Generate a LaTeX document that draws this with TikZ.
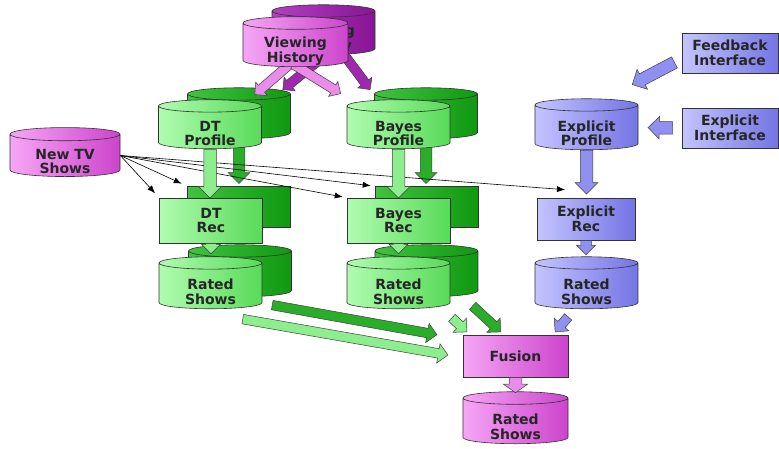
\documentclass[tikz,border=0pt]{standalone}
\usepackage{fontspec}
\setmainfont{DejaVu Sans}
\usepackage{tikz}
\usetikzlibrary{positioning,arrows.meta,calc,shapes.geometric,shapes.arrows}

\definecolor{pinkA}{HTML}{F6A6F6}
\definecolor{pinkB}{HTML}{CC44CC}
\definecolor{pinkF}{HTML}{EA8CEA}
\definecolor{purA}{HTML}{B240C0}
\definecolor{purB}{HTML}{861494}
\definecolor{purF}{HTML}{9E28AE}
\definecolor{grnA}{HTML}{B0FCB0}
\definecolor{grnB}{HTML}{58DA58}
\definecolor{grnF}{HTML}{8CEE8C}
\definecolor{dgrA}{HTML}{40C440}
\definecolor{dgrB}{HTML}{109810}
\definecolor{dgrF}{HTML}{2AAE2A}
\definecolor{bluA}{HTML}{C4C4FF}
\definecolor{bluB}{HTML}{7474E4}
\definecolor{bluF}{HTML}{9090F0}

% dicker Pfeil zwischen zwei Punkten
\newcommand{\fatarrow}[3][]{%
  \path let \p1=(#2), \p2=(#3),
    \n1={atan2(\y2-\y1,\x2-\x1)}, \n2={veclen(\x2-\x1,\y2-\y1)} in
    node[fat,#1,anchor=tail,rotate=\n1,minimum height=\n2] at (\p1) {};
}

\begin{document}
\begin{tikzpicture}[
  x=1pt,y=-1pt,
  >={Latex[length=8pt,width=6pt]},
  every node/.style={font=\fontsize{14}{14.5}\selectfont\bfseries,text=black!85},
  db/.style={cylinder,shape border rotate=90,aspect=0.12,draw=black!80,
    line width=0.6pt,text width=103pt,minimum width=103,minimum height=51,inner sep=0pt},
  dbtext/.style={label={[yshift=-6pt,align=center]center:#1}},
  box/.style={rectangle,draw=black!80,line width=0.6pt,minimum width=103,
    minimum height=44,inner sep=0pt,align=center},
  pink/.style={left color=pinkA,right color=pinkB},
  purple/.style={left color=purA,right color=purB},
  green/.style={left color=grnA,right color=grnB},
  dgreen/.style={left color=dgrA,right color=dgrB},
  blue/.style={left color=bluA,right color=bluB},
  fat/.style={single arrow,draw=black!75,line width=0.5pt,inner xsep=0pt,
    inner ysep=6pt,single arrow head extend=5pt,minimum width=0pt},
  feed/.style={->,line width=0.6pt,black}
]
\useasboundingbox (0,0) rectangle (779,448);

% hintere Ebene (dunkelgruen)
\node[db,dgreen] (dtpB) at (239,116.5) {};
\node[db,dgreen] (bpB)  at (426,116.5) {};
\node[box,dgreen,minimum height=41] (dtrB) at (239,207) {};
\node[box,dgreen,minimum height=41] (brB)  at (426.5,207) {};
\node[db,dgreen,minimum height=52] (dtsB) at (240,274) {};
\node[db,dgreen,minimum height=52] (bsB)  at (426.5,274) {};

\fatarrow[fill=dgrF,inner ysep=5.5pt]{dtpB.south}{$(dtpB.south |- dtrB.north)+(0,-3)$}
\fatarrow[fill=dgrF,inner ysep=5.5pt]{bpB.south}{$(bpB.south |- brB.north)+(0,-3)$}
\fatarrow[fill=dgrF,inner ysep=4pt]{dtrB.south}{$(dtrB.south |- dtsB.north)+(0,-2)$}
\fatarrow[fill=dgrF,inner ysep=4pt]{brB.south}{$(brB.south |- bsB.north)+(0,-2)$}

% vordere Ebene (hellgruen)
\node[db,green,minimum height=49,dbtext={DT\\Profile}] (dtp) at (210,127.5) {};
\node[db,green,minimum height=49,dbtext={Bayes\\Profile}] (bp) at (398.5,127.5) {};
\node[box,green,minimum height=45] (dtr) at (211,220.5) {DT\\Rec};
\node[box,green,minimum height=45] (br)  at (398.5,220.5) {Bayes\\Rec};
\node[db,green,minimum height=52,dbtext={Rated\\Shows}] (dts) at (210.5,286) {};
\node[db,green,minimum height=52,dbtext={Rated\\Shows}] (bs)  at (398.5,286) {};

% explizites Profil
\node[db,blue,dbtext={Explicit\\Profile}] (ep) at (586.5,127.5) {};
\node[box,blue,minimum width=98,minimum height=42] (er) at (586,219) {Explicit\\Rec};
\node[db,blue,minimum height=52,dbtext={Rated\\Shows}] (es) at (586.5,286) {};
\node[box,blue,minimum width=96,minimum height=40] (fbi)  at (730,53) {Feedback\\Interface};
\node[box,blue,minimum width=96,minimum height=40] (eint) at (730,128) {Explicit\\Interface};

% neue Sendungen
\node[db,pink,text width=110pt,minimum width=110,minimum height=49,dbtext={New TV\\Shows}] (newtv) at (65,155.5) {};
\draw[feed,shorten >=6pt] (newtv.east) -- (dtr.north west);
\draw[feed,shorten >=6pt] (newtv.east) -- (dtrB.north west);
\draw[feed,shorten >=4pt] (newtv.east) -- (br.north west);
\draw[feed,shorten >=4pt] (newtv.east) -- (brB.north west);
\draw[feed] (newtv.east) -- ($(er.north)+(-21,-8)$);

% hellgruene Pfeile
\fatarrow[fill=grnF]{dtp.south}{dtp.south |- dtr.north}
\fatarrow[fill=grnF]{bp.south}{bp.south |- br.north}
\fatarrow[fill=grnF,inner ysep=5pt,single arrow head extend=4pt]{dtr.south}{$(dtr.south |- dts.north)+(0,-3)$}
\fatarrow[fill=grnF,inner ysep=5pt,single arrow head extend=4pt]{br.south}{$(br.south |- bs.north)+(0,-3)$}

% blaue Pfeile
\fatarrow[fill=bluF]{$(fbi.south west)+(-7,-11)$}{$(ep.north)+(46,-14)$}
\fatarrow[fill=bluF]{$(eint.west)+(-9,0)$}{$(ep.east)+(10,0)$}
\fatarrow[fill=bluF]{ep.south}{$(ep.south |- er.north)+(0,-4)$}
\fatarrow[fill=bluF,inner ysep=5pt,single arrow head extend=4pt]{er.south}{$(er.south |- es.north)+(0,-2)$}

% Fusion
\node[box,pink,minimum width=105,minimum height=42] (fusion) at (515.5,356) {Fusion};
\node[db,pink,text width=105pt,minimum width=105,minimum height=52,dbtext={Rated\\Shows}] (final) at (515.5,421) {};
\fatarrow[fill=dgrF,inner ysep=4.5pt]{$(dtsB.south)+(32,8)$}{$(fusion.north west)+(-26,0)$}
\fatarrow[fill=grnF,inner ysep=4.5pt]{$(dts.south)+(32,10)$}{$(fusion.west)+(-15,-1)$}
\fatarrow[fill=grnF,inner ysep=4.5pt]{$(fusion.north west)+(-11,-17)$}{$(fusion.north west)+(4,-3)$}
\fatarrow[fill=dgrF,inner ysep=4.5pt]{$(fusion.north)+(-43,-29)$}{$(fusion.north)+(-15,-3)$}
\fatarrow[fill=bluF,inner ysep=4.5pt]{$(fusion.north east)+(0,-18)$}{$(fusion.north east)+(-13,-3)$}
\fatarrow[fill=pinkF,inner ysep=6pt,single arrow head extend=6pt,single arrow tip angle=110]{fusion.south}{$(final.north)+(0,1)$}

% Sehverlauf
\fatarrow[fill=purF,inner ysep=4.5pt,single arrow head extend=4pt]{$(329,52)$}{$(dtpB.north)+(44,2)$}
\fatarrow[fill=purF,inner ysep=4.5pt,single arrow head extend=4pt]{$(342,52)$}{$(bpB.north)+(-56,2)$}
\node[db,purple,minimum height=50,dbtext={Viewing\\History}] (vhB) at (323.5,33) {};
\fatarrow[fill=pinkF,inner ysep=4.5pt,single arrow head extend=4pt]{$(290,64)$}{$(dtpB.north)+(16,7)$}
\fatarrow[fill=pinkF,inner ysep=4.5pt,single arrow head extend=4pt]{$(293,64)$}{$(bp.north)+(-58,-6)$}
\node[db,pink,text width=105pt,minimum width=105,minimum height=50,dbtext={Viewing\\History}] (vh) at (295.5,45) {};
\end{tikzpicture}
\end{document}
